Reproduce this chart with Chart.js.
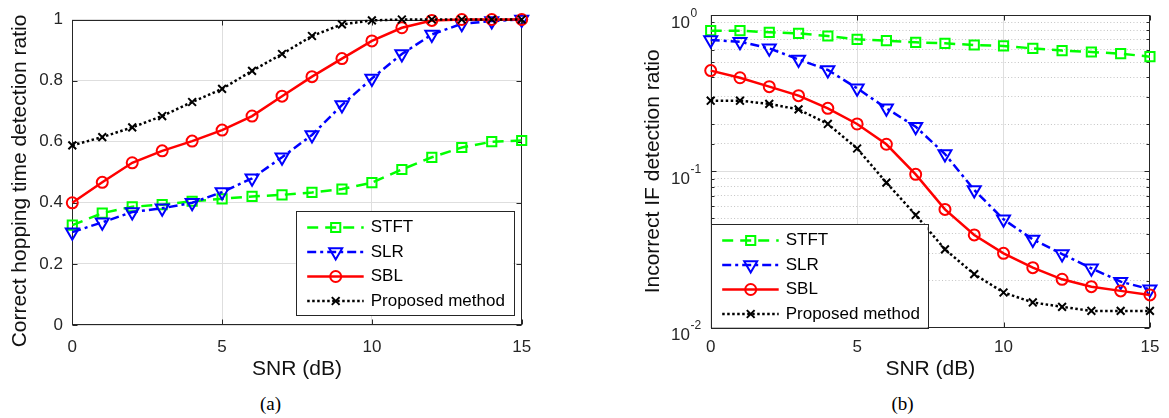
<!DOCTYPE html>
<html><head><meta charset="utf-8">
<script src="https://cdn.jsdelivr.net/npm/chart.js@4/dist/chart.umd.min.js"></script>
<style>
html,body{margin:0;padding:0;background:#fff;width:1169px;height:418px;overflow:hidden;}
#wrapA{position:absolute;left:0;top:0;width:585px;height:380px;}
#wrapB{position:absolute;left:585px;top:0;width:584px;height:380px;}
.cap{position:absolute;top:394px;width:40px;text-align:center;font-family:"Liberation Serif","Times New Roman",serif;font-size:19px;line-height:19px;color:#000;}
</style></head><body>
<div id="wrapA"><canvas id="cA" width="585" height="380"></canvas></div>
<div id="wrapB"><canvas id="cB" width="584" height="380"></canvas></div>
<div class="cap" style="left:250.5px">(a)</div>
<div class="cap" style="left:882.5px">(b)</div>
<script>
// ---------- data ----------
const snr = [0,1,2,3,4,5,6,7,8,9,10,11,12,13,14,15];
const seriesNames = ['STFT','SLR','SBL','Proposed method'];
const xTicks = [0,5,10,15];
const yTicksA = [0,0.2,0.4,0.6,0.8,1];
const yTickLabelsA = ['0','0.2','0.4','0.6','0.8','1'];
const yDecadesB = [0.01,0.1,1];
const yDecadeExpB = ['-2','-1','0'];

// (a) correct hopping time detection ratio
const hopSTFT = [0.327,0.366,0.387,0.394,0.405,0.413,0.421,0.426,0.434,0.445,0.466,0.509,0.549,0.581,0.600,0.604];
const hopSLR  = [0.304,0.336,0.370,0.382,0.400,0.435,0.480,0.549,0.622,0.720,0.807,0.887,0.951,0.986,0.995,1.000];
const hopSBL  = [0.400,0.467,0.531,0.570,0.602,0.638,0.684,0.749,0.813,0.872,0.930,0.973,0.997,1.000,1.000,1.000];
const hopProp = [0.588,0.615,0.647,0.684,0.730,0.773,0.832,0.887,0.946,0.984,0.997,1.000,1.000,1.000,1.000,1.000];

// (b) incorrect IF detection ratio
const ifSTFT = [0.794,0.794,0.775,0.763,0.734,0.699,0.685,0.669,0.659,0.643,0.634,0.612,0.592,0.580,0.566,0.541];
const ifSLR  = [0.692,0.675,0.612,0.520,0.445,0.340,0.253,0.193,0.129,0.076,0.0493,0.0367,0.0296,0.0240,0.0197,0.0176];
const ifSBL  = [0.441,0.397,0.348,0.305,0.253,0.201,0.149,0.0957,0.0571,0.0392,0.0299,0.0242,0.0204,0.0183,0.0172,0.0162];
const ifProp = [0.283,0.283,0.270,0.249,0.201,0.140,0.0847,0.0526,0.0317,0.0220,0.0168,0.0145,0.0136,0.0128,0.0128,0.0128];

// ---------- styles ----------
const FONT = '"Liberation Sans", Arial, Helvetica, sans-serif';
const AX = '#262626';
const styles = [
  {borderColor:'#00ff00', borderDash:[11,7], pointStyle:'rect', pointRadius:6.5, pointRotation:0, order:4},
  {borderColor:'#0000ff', borderDash:[9,4,3,4], pointStyle:'triangle', pointRadius:7.5, pointRotation:180, order:3},
  {borderColor:'#ff0000', borderDash:[], pointStyle:'circle', pointRadius:5.5, pointRotation:0, order:2},
  {borderColor:'#000000', borderDash:[2.5,2.5], pointStyle:'crossRot', pointRadius:5.5, pointRotation:0, order:1}
];

function makeDatasets(arrs){
  return arrs.map((arr,i)=>({
    label: seriesNames[i],
    data: snr.map((x,k)=>({x:x, y:arr[k]})),
    borderColor: styles[i].borderColor,
    pointBorderColor: styles[i].borderColor,
    backgroundColor: 'rgba(0,0,0,0)',
    pointBackgroundColor: 'rgba(0,0,0,0)',
    borderWidth: 2.5,
    pointBorderWidth: 2,
    borderDash: styles[i].borderDash,
    pointStyle: styles[i].pointStyle,
    pointRadius: styles[i].pointRadius,
    pointRotation: styles[i].pointRotation,
    tension: 0,
    clip: false,
    order: styles[i].order
  }));
}

function drawMarker(ctx, style, r, rot, x, y){
  ctx.beginPath();
  if (style==='rect'){ const s=Math.SQRT1_2*r; ctx.rect(x-s,y-s,2*s,2*s); }
  else if (style==='circle'){ ctx.arc(x,y,r,0,Math.PI*2); }
  else if (style==='triangle'){
    let rad = rot*Math.PI/180;
    ctx.moveTo(x+Math.sin(rad)*r, y-Math.cos(rad)*r);
    rad += 2*Math.PI/3; ctx.lineTo(x+Math.sin(rad)*r, y-Math.cos(rad)*r);
    rad += 2*Math.PI/3; ctx.lineTo(x+Math.sin(rad)*r, y-Math.cos(rad)*r);
    ctx.closePath();
  } else if (style==='crossRot'){
    const o=Math.SQRT1_2*r;
    ctx.moveTo(x-o,y-o); ctx.lineTo(x+o,y+o);
    ctx.moveTo(x+o,y-o); ctx.lineTo(x-o,y+o);
  }
  ctx.stroke();
}

function isDecade(v){ const l=Math.log10(v); return Math.abs(l-Math.round(l))<1e-6; }

// box + inner tick marks (drawn below data, like MATLAB)
const framePlugin = {
  id:'frame',
  beforeDatasetsDraw(chart){
    const {ctx, chartArea:a, scales} = chart;
    const L=Math.round(a.left)+0.5, R=Math.round(a.right)-0.5, T=Math.round(a.top)+0.5, B=Math.round(a.bottom)-0.5;
    ctx.save();
    ctx.strokeStyle=AX; ctx.lineWidth=1; ctx.setLineDash([]);
    ctx.beginPath();
    scales.x.ticks.forEach(t=>{
      const px=Math.round(scales.x.getPixelForValue(t.value))+0.5;
      ctx.moveTo(px,B); ctx.lineTo(px,B-5); ctx.moveTo(px,T); ctx.lineTo(px,T+5);
    });
    const logY = scales.y.type==='logarithmic';
    scales.y.ticks.forEach(t=>{
      const py=Math.round(scales.y.getPixelForValue(t.value))+0.5;
      const len = (!logY || isDecade(t.value)) ? 5 : 3;
      ctx.moveTo(L,py); ctx.lineTo(L+len,py); ctx.moveTo(R,py); ctx.lineTo(R-len,py);
    });
    ctx.stroke();
    ctx.strokeRect(L,T,R-L,B-T);
    ctx.restore();
  }
};

// power-of-ten tick labels with a real superscript exponent
const expLabelPlugin = {
  id:'expLabels',
  afterDraw(chart, args, opts){
    if (!opts || !opts.values) return;
    const {ctx, scales} = chart;
    const y = scales.y;
    const xr = opts.right;
    ctx.save();
    ctx.fillStyle = AX; ctx.textBaseline = 'alphabetic';
    opts.values.forEach((v,i)=>{
      const py = y.getPixelForValue(v);
      ctx.font = '17px '+FONT; ctx.textAlign='right';
      ctx.fillText('10', xr, py+12.5);
      ctx.font = '12px '+FONT; ctx.textAlign='left';
      ctx.fillText(opts.exps[i], xr+0.5, py+1.7);
    });
    ctx.restore();
  }
};

// MATLAB-style legend with box
const legendPlugin = {
  id:'boxLegend',
  afterDatasetsDraw(chart, args, opts){
    const ctx=chart.ctx; const {x,y,w,h}=opts;
    ctx.save();
    ctx.fillStyle='#fff'; ctx.fillRect(x,y,w,h);
    ctx.strokeStyle=AX; ctx.lineWidth=1; ctx.setLineDash([]);
    ctx.strokeRect(Math.round(x)+0.5,Math.round(y)+0.5,Math.round(w),Math.round(h));
    chart.data.datasets.forEach((ds,i)=>{
      const ry = y + 16.5 + i*24.5;
      ctx.strokeStyle=ds.borderColor; ctx.lineWidth=ds.borderWidth;
      ctx.setLineDash(ds.borderDash||[]);
      ctx.beginPath(); ctx.moveTo(x+11.5, ry); ctx.lineTo(x+68, ry); ctx.stroke();
      ctx.setLineDash([]); ctx.lineWidth=ds.pointBorderWidth;
      drawMarker(ctx, ds.pointStyle, ds.pointRadius, ds.pointRotation, x+40, ry);
      ctx.fillStyle='#000'; ctx.font='17px '+FONT; ctx.textBaseline='middle'; ctx.textAlign='left';
      ctx.fillText(ds.label, x+75, ry);
    });
    ctx.restore();
  }
};

Chart.defaults.font.family = FONT;
Chart.defaults.color = AX;

// ---------- chart (a) ----------
new Chart(document.getElementById('cA'), {
  type:'line',
  data:{ datasets: makeDatasets([hopSTFT,hopSLR,hopSBL,hopProp]) },
  options:{
    responsive:false, animation:false, events:[],
    layout:{ padding:{left:0, top:12.3, right:63.3, bottom:0} },
    plugins:{ legend:{display:false}, tooltip:{enabled:false},
      boxLegend:{x:295.7, y:211, w:217.6, h:104} },
    scales:{
      x:{ type:'linear', min:0, max:15,
        afterBuildTicks(s){ s.ticks = xTicks.map(v=>({value:v})); },
        afterFit(s){ s.height = 55; },
        grid:{ color:'#dedede', lineWidth:1, drawTicks:false },
        border:{ display:false },
        ticks:{ padding:12.3, font:{size:17}, color:AX, maxRotation:0, autoSkip:false },
        title:{ display:true, text:'SNR (dB)', color:'#111', font:{size:21, lineHeight:1}, padding:{top:0,bottom:0.7} }
      },
      y:{ type:'linear', min:0, max:1,
        afterBuildTicks(s){ s.ticks = yTicksA.map(v=>({value:v})); },
        afterFit(s){ s.width = 72.3; },
        grid:{ color:'#dedede', lineWidth:1, drawTicks:false },
        border:{ display:false },
        ticks:{ padding:9.3, font:{size:17}, color:AX, autoSkip:false,
          callback:(v,i)=> yTickLabelsA[i] },
        title:{ display:true, text:'Correct hopping time detection ratio   ', color:'#111', font:{size:21, lineHeight:1}, padding:{top:9.5,bottom:0} }
      }
    }
  },
  plugins:[framePlugin, legendPlugin]
});

// ---------- chart (b) ----------
new Chart(document.getElementById('cB'), {
  type:'line',
  data:{ datasets: makeDatasets([ifSTFT,ifSLR,ifSBL,ifProp]) },
  options:{
    responsive:false, animation:false, events:[],
    layout:{ padding:{left:0, top:15, right:14.7, bottom:0} },
    plugins:{ legend:{display:false}, tooltip:{enabled:false},
      boxLegend:{x:125.7, y:224, w:217, h:103.7},
      expLabels:{ values:yDecadesB, exps:yDecadeExpB, right:105 } },
    scales:{
      x:{ type:'linear', min:0, max:15,
        afterBuildTicks(s){ s.ticks = xTicks.map(v=>({value:v})); },
        afterFit(s){ s.height = 52.3; },
        grid:{ color:'#dedede', lineWidth:1, drawTicks:false },
        border:{ display:false },
        ticks:{ padding:9.6, font:{size:17}, color:AX, maxRotation:0, autoSkip:false },
        title:{ display:true, text:'SNR (dB)', color:'#111', font:{size:21, lineHeight:1}, padding:{top:0,bottom:0} }
      },
      y:{ type:'logarithmic', min:0.01, max:1,
        afterFit(s){ s.width = 125.7; },
        grid:{ drawTicks:false, lineWidth:1,
          color:(c)=> (c.tick && !isDecade(c.tick.value)) ? '#c4c4c4' : '#dedede' },
        border:{ display:false,
          dash:(c)=> (c.tick && !isDecade(c.tick.value)) ? [1,2.3] : [] },
        ticks:{ display:false, autoSkip:false },
        title:{ display:true, text:'Incorrect IF detection ratio', color:'#111', font:{size:21, lineHeight:1}, padding:{top:57.8,bottom:0} }
      }
    }
  },
  plugins:[framePlugin, legendPlugin, expLabelPlugin]
});
</script>
</body></html>
